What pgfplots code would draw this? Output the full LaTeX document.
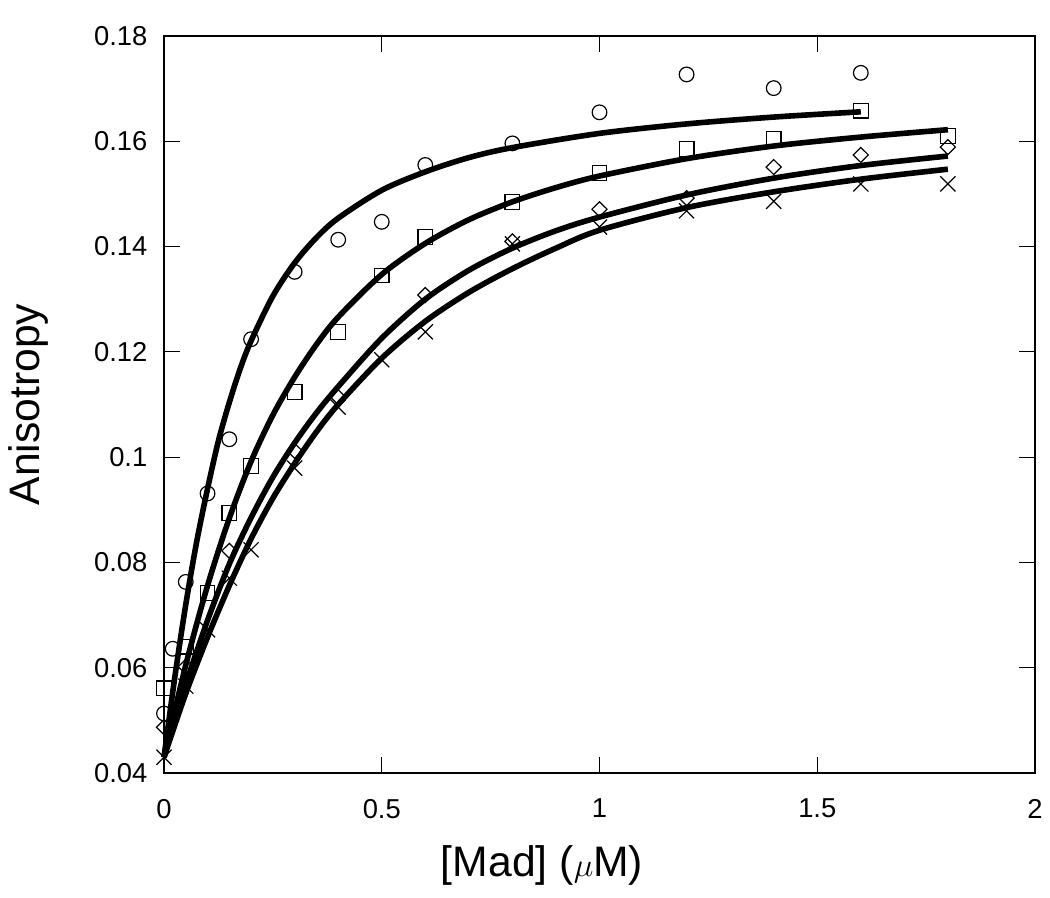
\documentclass[border=0pt]{standalone}
\usepackage{fontspec}
\setmainfont{Liberation Sans}
\usepackage{pgfplots}
\pgfplotsset{compat=1.18}
\begin{document}
\begin{tikzpicture}
\path[use as bounding box] (-123pt,-93pt) rectangle (664.5pt,579.75pt);
\begin{axis}[
  at={(0,0)}, anchor=south west,
  scale only axis, width=653.25pt, height=552.75pt,
  xmin=0, xmax=2, ymin=0.04, ymax=0.18,
  xtick={0,0.5,1,1.5,2}, xticklabels={0,0.5,1,1.5,2},
  ytick={0.04,0.06,0.08,0.1,0.12,0.14,0.16,0.18},
  yticklabels={0.04,0.06,0.08,0.1,0.12,0.14,0.16,0.18},
  xtick pos=both, ytick pos=both, xticklabel pos=lower, yticklabel pos=left,
  tick align=inside, major tick length=12pt,
  tick style={black, line width=0.8pt},
  axis line style={black, line width=0.8pt},
  ticklabel style={font=\fontsize{20.5}{24}\selectfont},
  xticklabel style={yshift=-16pt},
  yticklabel style={xshift=-9pt},
  xlabel={[Mad] ($\mu$M)},
  ylabel={Anisotropy},
  label style={font=\fontsize{32}{38}\selectfont},
  xlabel style={at={(axis description cs:0.434,-0.125)}, anchor=center},
  ylabel style={at={(axis description cs:-0.156,0.5)}, anchor=center},
  clip=false,
]
% data points
\addplot[only marks, mark=o, mark size=5.5pt, mark options={black, line width=0.9pt}] coordinates {
(0,0.0513) (0.02,0.0636) (0.05,0.0763) (0.1,0.0931) (0.15,0.1034) (0.2,0.1224)
(0.3,0.1352) (0.4,0.1413) (0.5,0.1447) (0.6,0.1555) (0.8,0.1596) (1.0,0.1655)
(1.2,0.1727) (1.4,0.1701) (1.6,0.1730)};
\addplot[only marks, mark=square, mark size=5.5pt, mark options={black, line width=0.9pt}] coordinates {
(0,0.0561) (0.05,0.0640) (0.1,0.0742) (0.15,0.0894) (0.2,0.0983) (0.3,0.1124)
(0.4,0.1238) (0.5,0.1345) (0.6,0.1418) (0.8,0.1485) (1.0,0.1540) (1.2,0.1585)
(1.4,0.1604) (1.6,0.1658) (1.8,0.1610)};
\addplot[only marks, mark=diamond, mark size=5.6pt, mark options={black, line width=0.9pt, xscale=1.35}] coordinates {
(0,0.0487) (0.05,0.0602) (0.15,0.0822) (0.3,0.1012) (0.4,0.1114) (0.6,0.1308)
(0.8,0.1410) (1.0,0.1471) (1.2,0.1492) (1.4,0.1551) (1.6,0.1574) (1.8,0.1589)};
\addplot[only marks, mark=x, mark size=8pt, mark options={black, line width=0.9pt}] coordinates {
(0,0.0430) (0.05,0.0565) (0.1,0.0672) (0.15,0.0770) (0.2,0.0824) (0.3,0.0979)
(0.4,0.1095) (0.5,0.1185) (0.6,0.1238) (0.8,0.1405) (1.0,0.1437) (1.2,0.1468)
(1.4,0.1486) (1.6,0.1519) (1.8,0.1519)};
% fitted curves
\addplot[black, line width=4.2pt, smooth, mark=none] coordinates {
(0,0.0430) (0.025,0.0583) (0.05,0.0720) (0.075,0.0839) (0.1,0.0940) (0.125,0.1031)
(0.15,0.1104) (0.175,0.1168) (0.2,0.1221) (0.25,0.1306) (0.3,0.1369) (0.35,0.1417)
(0.4,0.1454) (0.5,0.1507) (0.6,0.1542) (0.7,0.1569) (0.8,0.1588) (1.0,0.1615)
(1.2,0.1633) (1.4,0.1646) (1.6,0.1656)};
\addplot[black, line width=4.2pt, smooth, mark=none] coordinates {
(0,0.0430) (0.05,0.0605) (0.1,0.0756) (0.15,0.0884) (0.2,0.0992) (0.25,0.1080)
(0.3,0.1152) (0.35,0.1214) (0.4,0.1266) (0.5,0.1347) (0.6,0.1406) (0.7,0.1451)
(0.8,0.1485) (0.9,0.1512) (1.0,0.1534) (1.2,0.1567) (1.4,0.1591) (1.6,0.1608)
(1.8,0.1622)};
\addplot[black, line width=4.2pt, smooth, mark=none] coordinates {
(0,0.0430) (0.05,0.0568) (0.1,0.0690) (0.15,0.0797) (0.2,0.0885) (0.25,0.0962)
(0.3,0.1027) (0.35,0.1084) (0.4,0.1134) (0.5,0.1226) (0.6,0.1300) (0.7,0.1355)
(0.8,0.1397) (0.9,0.1430) (1.0,0.1456) (1.2,0.1498) (1.4,0.1530) (1.6,0.1554)
(1.8,0.1572)};
\addplot[black, line width=4.2pt, smooth, mark=none] coordinates {
(0,0.0430) (0.05,0.0551) (0.1,0.0658) (0.15,0.0756) (0.2,0.0845) (0.25,0.0922)
(0.3,0.0988) (0.35,0.1048) (0.4,0.1100) (0.5,0.1188) (0.6,0.1258) (0.7,0.1313)
(0.8,0.1358) (0.9,0.1397) (1.0,0.1431) (1.2,0.1474) (1.4,0.1504) (1.6,0.1528)
(1.8,0.1547)};
\end{axis}
\end{tikzpicture}
\end{document}
